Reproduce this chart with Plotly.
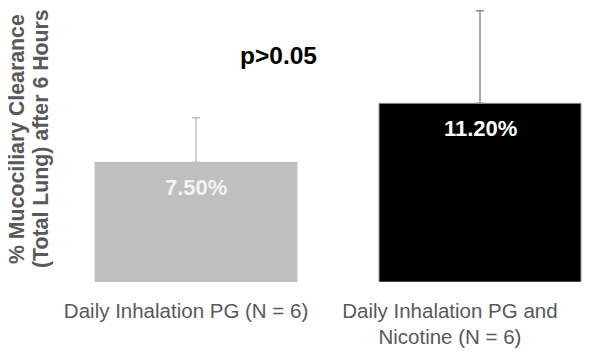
import plotly.graph_objects as go

categories = ["Daily Inhalation PG (N = 6)", "Daily Inhalation PG and<br>Nicotine (N = 6)"]
values = [7.5, 11.2]
errors_up = [2.8, 5.8]
bar_colors = ["#bfbfbf", "#000000"]
err_colors = ["#bfbfbf", "#8c8c8c"]
label_colors = ["#f2f2f2", "#ffffff"]
y_title_lines = ["% Mucociliary Clearance", "(Total Lung) after 6 Hours"]
p_text = "p>0.05"

FONT = "Liberation Sans, Arial, sans-serif"
xpos = [0, 1]

# the page body adds an 8px margin; the figure is sized to fit inside the window
W, H = 592, 349
PLOT_H = 274

fig = go.Figure()
for i in range(2):
    fig.add_trace(go.Bar(
        x=[xpos[i]], y=[values[i]], width=0.711,
        marker=dict(color=bar_colors[i],
                    line=dict(color="#8c8c8c" if i == 1 else bar_colors[i], width=1)),
        error_y=dict(type="data", array=[errors_up[i]], arrayminus=[0], symmetric=False,
                     color=err_colors[i], thickness=1.5, width=4),
        showlegend=False, hoverinfo="skip",
    ))
    fig.add_annotation(x=xpos[i], y=values[i], xref="x", yref="y", yshift=-25,
                       text="<b>%.2f%%</b>" % values[i], showarrow=False,
                       font=dict(family=FONT, size=22, color=label_colors[i]),
                       xanchor="center", yanchor="middle")

fig.add_annotation(x=0.292, y=14.23, xref="x", yref="y", text="<b>%s</b>" % p_text,
                   showarrow=False, font=dict(family=FONT, size=24.5, color="#000000"),
                   xanchor="center", yanchor="middle")

title_x = [9, 33]
for k, line in enumerate(y_title_lines):
    fig.add_annotation(x=title_x[k] / W, y=1 - 131 / PLOT_H, xref="paper", yref="paper",
                       text="<b>%s</b>" % line, textangle=-90, showarrow=False,
                       font=dict(family=FONT, size=21.3, color="#595959"),
                       xanchor="center", yanchor="middle")

fig.update_layout(
    width=W, height=H,
    margin=dict(l=0, r=0, t=0, b=H - PLOT_H, autoexpand=False),
    paper_bgcolor="white", plot_bgcolor="white",
    barmode="overlay",
    xaxis=dict(range=[-0.662, 1.4225], tickvals=[-0.035, 0.894], ticktext=categories,
               showgrid=False, zeroline=False, showline=False,
               ticks="outside", ticklen=10, tickcolor="rgba(0,0,0,0)",
               tickfont=dict(family=FONT, size=20.5, color="#595959")),
    yaxis=dict(range=[0, 17.18], showticklabels=False, showgrid=False,
               zeroline=False, showline=False, ticks=""),
)

fig.write_html("out.html")
